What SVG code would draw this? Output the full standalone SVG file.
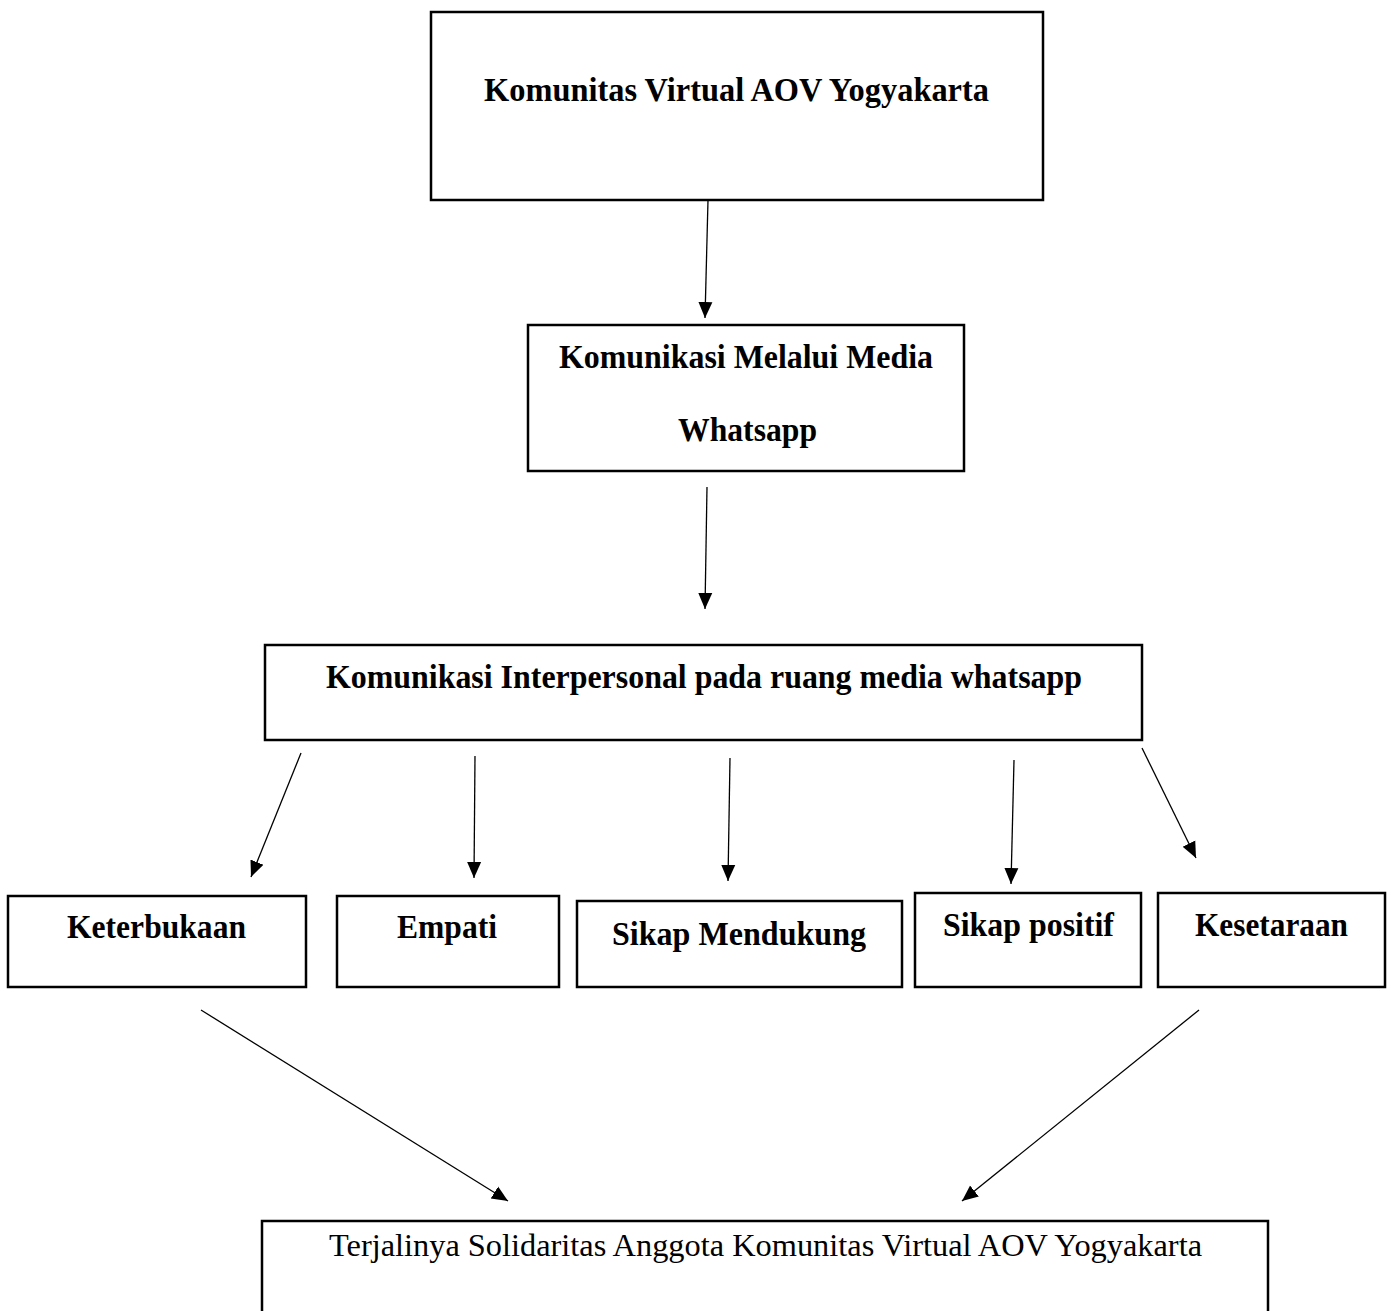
<svg xmlns="http://www.w3.org/2000/svg" width="1391" height="1311" viewBox="0 0 1391 1311">
<style>
.box{fill:#fff;stroke:#000;stroke-width:2.5}
.b{font-family:"Liberation Serif","Times New Roman",serif;font-weight:bold;font-size:33px;fill:#000}
.r{font-family:"Liberation Serif","Times New Roman",serif;font-size:32px;fill:#000}
.c{stroke:#000;stroke-width:1.3;fill:none;marker-end:url(#ah)}
</style>
<defs>
<marker id="ah" markerUnits="userSpaceOnUse" markerWidth="16" markerHeight="16" viewBox="0 0 16 16" refX="16" refY="8" orient="auto">
<path d="M0,1 L16,8 L0,15 Z" fill="#000"/>
</marker>
</defs>
<rect width="1391" height="1311" fill="#fff"/>
<g id="n1"><rect class="box" x="431" y="12" width="612" height="188"/>
<text class="b" x="484" y="101" textLength="505" lengthAdjust="spacingAndGlyphs">Komunitas Virtual AOV Yogyakarta</text></g>
<g id="n2"><rect class="box" x="528" y="325" width="436" height="146"/>
<text class="b" x="559" y="368" textLength="374" lengthAdjust="spacingAndGlyphs">Komunikasi Melalui Media</text>
<text class="b" x="678" y="441" textLength="139" lengthAdjust="spacingAndGlyphs">Whatsapp</text></g>
<g id="n3"><rect class="box" x="265" y="645" width="877" height="95"/>
<text class="b" x="326" y="688" textLength="756" lengthAdjust="spacingAndGlyphs">Komunikasi Interpersonal pada ruang media whatsapp</text></g>
<g id="n4"><rect class="box" x="8" y="896" width="298" height="91"/>
<text class="b" x="67" y="938" textLength="179" lengthAdjust="spacingAndGlyphs">Keterbukaan</text></g>
<g id="n5"><rect class="box" x="337" y="896" width="222" height="91"/>
<text class="b" x="397" y="938" textLength="100" lengthAdjust="spacingAndGlyphs">Empati</text></g>
<g id="n6"><rect class="box" x="577" y="901" width="325" height="86"/>
<text class="b" x="612" y="945" textLength="254" lengthAdjust="spacingAndGlyphs">Sikap Mendukung</text></g>
<g id="n7"><rect class="box" x="915" y="893" width="226" height="94"/>
<text class="b" x="943" y="936" textLength="171" lengthAdjust="spacingAndGlyphs">Sikap positif</text></g>
<g id="n8"><rect class="box" x="1158" y="893" width="227" height="94"/>
<text class="b" x="1195" y="936" textLength="153" lengthAdjust="spacingAndGlyphs">Kesetaraan</text></g>
<g id="n9"><rect class="box" x="262" y="1221" width="1006" height="100"/>
<text class="r" x="329" y="1256" textLength="873" lengthAdjust="spacingAndGlyphs">Terjalinya Solidaritas Anggota Komunitas Virtual AOV Yogyakarta</text></g>
<g id="connectors">
<line class="c" x1="708" y1="200" x2="705" y2="318"/>
<line class="c" x1="707" y1="487" x2="705" y2="609"/>
<line class="c" x1="301" y1="753" x2="251" y2="877"/>
<line class="c" x1="475" y1="756" x2="474" y2="878"/>
<line class="c" x1="730" y1="758" x2="728" y2="881"/>
<line class="c" x1="1014" y1="760" x2="1011" y2="884"/>
<line class="c" x1="1142" y1="748" x2="1196" y2="858"/>
<line class="c" x1="201" y1="1010" x2="508" y2="1201"/>
<line class="c" x1="1199" y1="1010" x2="962" y2="1201"/>
</g>
</svg>
